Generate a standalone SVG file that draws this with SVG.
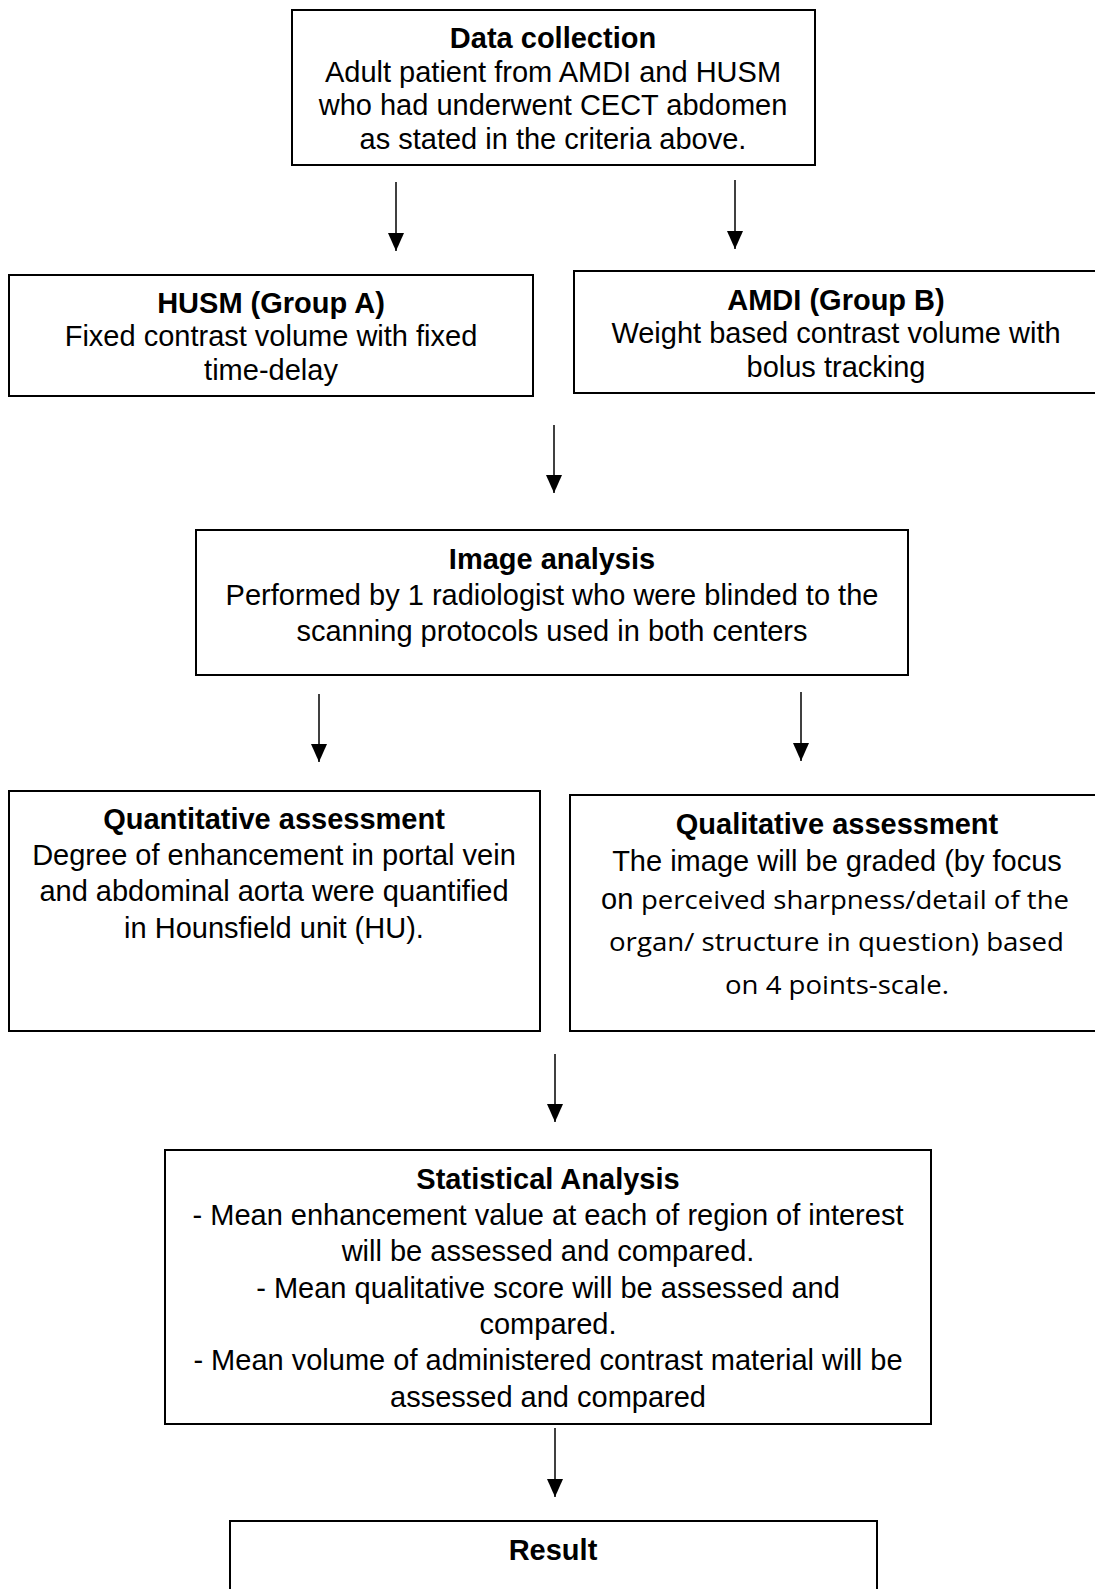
<svg xmlns="http://www.w3.org/2000/svg" width="1095" height="1589" viewBox="0 0 1095 1589">
<style>
.box{fill:#fff;stroke:#000;stroke-width:2}
.t{font-family:"Liberation Sans",Arial,sans-serif;font-size:29px;fill:#000;text-anchor:middle}
.b{font-weight:bold}
.c{font-family:"Open Sans","Liberation Sans",sans-serif;font-size:25px;fill:#000}
.conn line{stroke:#000;stroke-width:1.5}
</style>
<defs>
<marker id="ah" markerUnits="userSpaceOnUse" markerWidth="18" markerHeight="16" refX="18" refY="8" orient="auto" viewBox="0 0 18 16">
<path d="M0,0 L18,8 L0,16 Z" fill="#000"/>
</marker>
</defs>
<rect width="1095" height="1589" fill="#fff"/>
<g id="connectors" class="conn">
<line x1="396" y1="182" x2="396" y2="251" marker-end="url(#ah)"/>
<line x1="735" y1="180" x2="735" y2="249" marker-end="url(#ah)"/>
<line x1="554" y1="425" x2="554" y2="493" marker-end="url(#ah)"/>
<line x1="319" y1="694" x2="319" y2="762" marker-end="url(#ah)"/>
<line x1="801" y1="692" x2="801" y2="761" marker-end="url(#ah)"/>
<line x1="555" y1="1054" x2="555" y2="1122" marker-end="url(#ah)"/>
<line x1="555" y1="1428" x2="555" y2="1497" marker-end="url(#ah)"/>
</g>
<g id="data-collection">
<rect class="box" x="292" y="10" width="523" height="155"/>
<text class="t b" x="553" y="48">Data collection</text>
<text class="t" x="553" y="82">Adult patient from AMDI and HUSM</text>
<text class="t" x="553" y="115">who had underwent CECT abdomen</text>
<text class="t" x="553" y="149">as stated in the criteria above.</text>
</g>
<g id="husm">
<rect class="box" x="9" y="275" width="524" height="121"/>
<text class="t b" x="271" y="313">HUSM (Group A)</text>
<text class="t" x="271" y="346">Fixed contrast volume with fixed</text>
<text class="t" x="271" y="380">time-delay</text>
</g>
<g id="amdi">
<rect class="box" x="574" y="271" width="530" height="122"/>
<text class="t b" x="836" y="310">AMDI (Group B)</text>
<text class="t" x="836" y="343">Weight based contrast volume with</text>
<text class="t" x="836" y="377">bolus tracking</text>
</g>
<g id="image-analysis">
<rect class="box" x="196" y="530" width="712" height="145"/>
<text class="t b" x="552" y="569">Image analysis</text>
<text class="t" x="552" y="605">Performed by 1 radiologist who were blinded to the</text>
<text class="t" x="552" y="641">scanning protocols used in both centers</text>
</g>
<g id="quantitative">
<rect class="box" x="9" y="791" width="531" height="240"/>
<text class="t b" x="274" y="829">Quantitative assessment</text>
<text class="t" x="274" y="865">Degree of enhancement in portal vein</text>
<text class="t" x="274" y="901">and abdominal aorta were quantified</text>
<text class="t" x="274" y="938">in Hounsfield unit (HU).</text>
</g>
<g id="qualitative">
<rect class="box" x="570" y="795" width="534" height="236"/>
<text class="t b" x="837" y="834">Qualitative assessment</text>
<text class="t" x="837" y="871">The image will be graded (by focus</text>
<text class="t" x="601" y="909" style="text-anchor:start">on</text>
<text class="c" x="641" y="909" textLength="428" lengthAdjust="spacingAndGlyphs">perceived sharpness/detail of the</text>
<text class="c" x="609" y="951" textLength="455" lengthAdjust="spacingAndGlyphs">organ/ structure in question) based</text>
<text class="c" x="725" y="994" textLength="224" lengthAdjust="spacingAndGlyphs">on 4 points-scale.</text>
</g>
<g id="statistical-analysis">
<rect class="box" x="165" y="1150" width="766" height="274"/>
<text class="t b" x="548" y="1189">Statistical Analysis</text>
<text class="t" x="548" y="1225">- Mean enhancement value at each of region of interest</text>
<text class="t" x="548" y="1261">will be assessed and compared.</text>
<text class="t" x="548" y="1298">- Mean qualitative score will be assessed and</text>
<text class="t" x="548" y="1334">compared.</text>
<text class="t" x="548" y="1370">- Mean volume of administered contrast material will be</text>
<text class="t" x="548" y="1407">assessed and compared</text>
</g>
<g id="result">
<rect class="box" x="230" y="1521" width="647" height="100"/>
<text class="t b" x="553" y="1560">Result</text>
</g>
</svg>
